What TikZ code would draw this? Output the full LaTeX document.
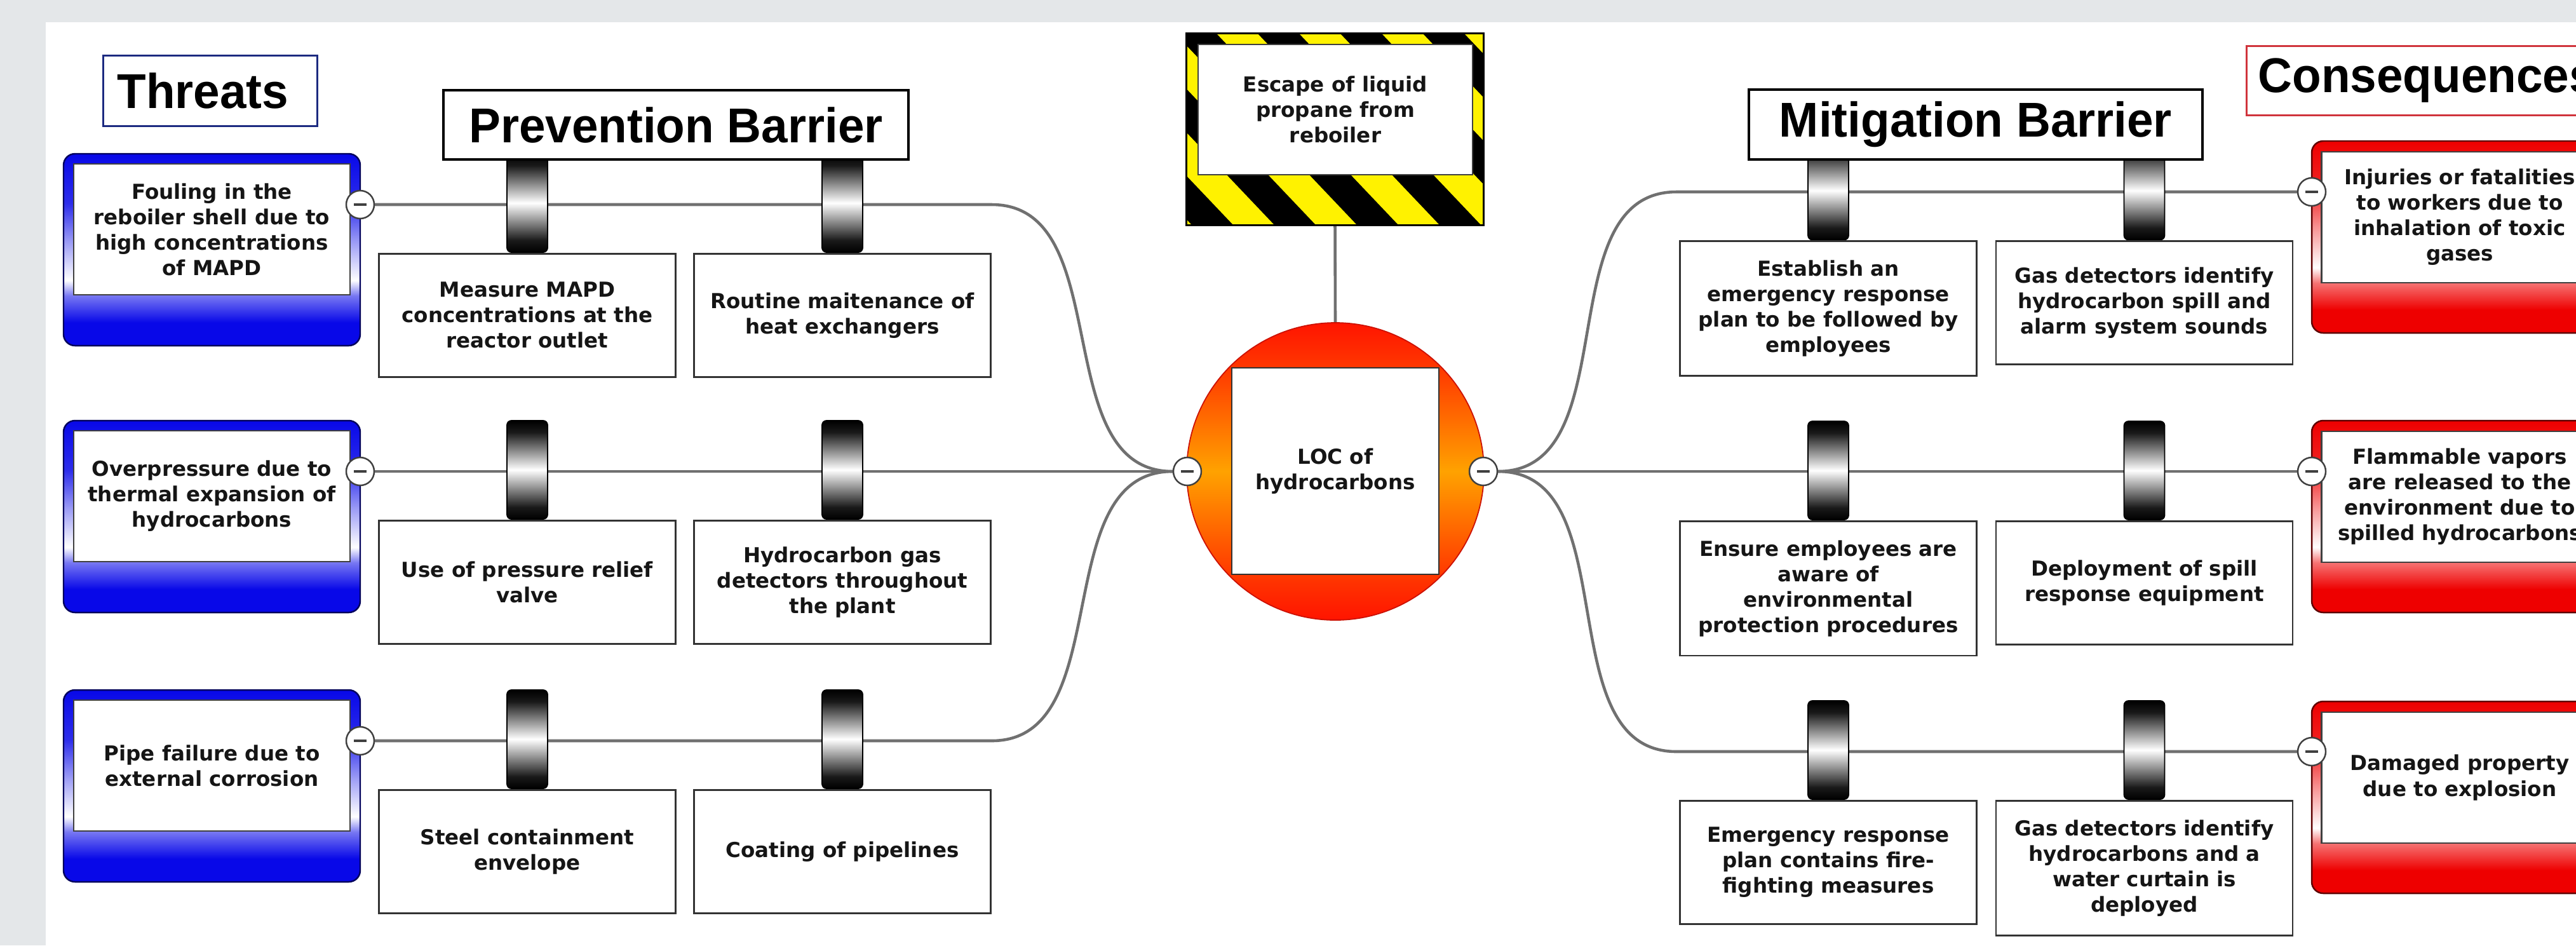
\documentclass[tikz,border=0pt]{standalone}
\usepackage{fontspec}
\setmainfont{DejaVu Sans}
\newfontfamily\headfont{Liberation Sans}[FakeStretch=0.97]
\usetikzlibrary{positioning}

\definecolor{bggray}{HTML}{E4E7E9}
\definecolor{linkgray}{HTML}{707070}
\definecolor{txt}{HTML}{151515}
\definecolor{tblue}{HTML}{0808E8}
\definecolor{cred}{HTML}{EE0000}
\definecolor{hazyellow}{HTML}{FFF200}
\definecolor{headblue}{HTML}{1C2A80}
\definecolor{headred}{HTML}{D0343C}
\definecolor{locred}{HTML}{FF1400}
\definecolor{locmid}{HTML}{FF3A00}
\definecolor{locorange}{HTML}{FFA200}

\pgfdeclarelayer{bg}
\pgfdeclarelayer{links}
\pgfsetlayers{bg,links,main}

% shadings (25bp..75bp = node height)
\pgfdeclareverticalshading{pillshade}{100bp}{color(0bp)=(black); color(25bp)=(black); color(31bp)=(black!90); color(50bp)=(white); color(69bp)=(black!90); color(75bp)=(black); color(100bp)=(black)}
\pgfdeclareverticalshading{threatshade}{100bp}{color(0bp)=(tblue); color(31bp)=(tblue); color(38bp)=(tblue!55!white); color(42bp)=(white); color(52bp)=(tblue!40!white); color(62bp)=(tblue!85!white); color(75bp)=(tblue); color(100bp)=(tblue)}
\pgfdeclareverticalshading{conshade}{100bp}{color(0bp)=(cred); color(31bp)=(cred); color(38bp)=(cred!55!white); color(42bp)=(white); color(52bp)=(cred!40!white); color(62bp)=(cred!85!white); color(75bp)=(cred); color(100bp)=(cred)}
\pgfdeclareverticalshading{locshade}{100bp}{color(0bp)=(locred); color(25bp)=(locred); color(33bp)=(locmid); color(50bp)=(locorange); color(67bp)=(locmid); color(75bp)=(locred); color(100bp)=(locred)}

\newcommand{\btext}{\fontsize{9.25pt}{11.4pt}\selectfont\bfseries}
\newcommand{\htext}{\headfont\bfseries\fontsize{21.9pt}{24pt}\selectfont}

\begin{document}
\begin{tikzpicture}[x=1cm, y=-1cm,
  link/.style={draw=linkgray, line width=1.3pt},
  barrier/.style={draw=black!80, line width=0.8pt, fill=white, text=txt, font=\btext, align=center,
    minimum width=4.67cm, minimum height=1.94cm, inner ysep=0.3cm},
  pill/.style={draw=black, line width=0.5pt, rounded corners=0.07cm, shade, shading=pillshade,
    minimum width=0.64cm, minimum height=1.55cm, inner sep=0pt},
  threatframe/.style={rounded corners=0.18cm, draw=tblue!40!black, line width=0.7pt, shade, shading=threatshade,
    minimum width=4.67cm, minimum height=3.02cm, inner sep=0pt},
  conframe/.style={rounded corners=0.18cm, draw=cred!40!black, line width=0.7pt, shade, shading=conshade,
    minimum width=4.67cm, minimum height=3.02cm, inner sep=0pt},
  eventbox/.style={draw=black!75, line width=0.8pt, fill=white, text=txt, font=\btext, align=center,
    minimum width=4.35cm, minimum height=2.06cm, inner sep=0.1cm},
  minus/.style={circle, draw=black!75, fill=white, line width=0.7pt, minimum size=0.44cm, inner sep=0pt,
    path picture={\draw[black!75, line width=1pt] ([xshift=-0.1cm]path picture bounding box.center) -- ([xshift=0.1cm]path picture bounding box.center);}},
  header/.style={draw=black, line width=1pt, fill=white, font=\htext, inner sep=0pt}
]
\useasboundingbox (0,0) rectangle (40.55,14.88);
\clip (0,0) rectangle (40.55,14.88);

\begin{pgfonlayer}{bg}
\fill[bggray] (0,0) rectangle (40.55,14.88);
\fill[white] (0.72,0.35) rectangle (40.55,14.88);
\end{pgfonlayer}

% threats
\node[threatframe] (tf1) at (3.335,3.93) {};
\node[eventbox] (t1) at (3.335,3.61) {Fouling in the\\reboiler shell due to\\high concentrations\\of MAPD};
\node[threatframe] (tf2) at (3.335,8.13) {};
\node[eventbox] (t2) at (3.335,7.81) {Overpressure due to\\thermal expansion of\\hydrocarbons};
\node[threatframe] (tf3) at (3.335,12.37) {};
\node[eventbox] (t3) at (3.335,12.05) {Pipe failure due to\\external corrosion};

% prevention barriers
\node[pill] (p11) at (8.30,3.195) {};
\node[pill] (p12) at (13.26,3.195) {};
\node[pill] (p21) at (8.30,7.395) {};
\node[pill] (p22) at (13.26,7.395) {};
\node[pill] (p31) at (8.30,11.635) {};
\node[pill] (p32) at (13.26,11.635) {};
\node[barrier, below=0pt of p11] (b11) {Measure MAPD\\concentrations at the\\reactor outlet};
\node[barrier, below=0pt of p12] (b12) {Routine maitenance of\\heat exchangers};
\node[barrier, below=0pt of p21] (b21) {Use of pressure relief\\valve};
\node[barrier, below=0pt of p22] (b22) {Hydrocarbon gas\\detectors throughout\\the plant};
\node[barrier, below=0pt of p31] (b31) {Steel containment\\envelope};
\node[barrier, below=0pt of p32] (b32) {Coating of pipelines};

% hazard and top event
\node[draw=black, line width=0.6pt, fill=hazyellow, minimum width=4.67cm, minimum height=3.01cm] (haz) at (21.015,2.035) {};
\begin{scope}
  \clip (haz.north west) rectangle (haz.south east);
  \foreach \k in {-3,...,4}
    \fill[black] (18.50+1.3*\k,0.53) -- ++(0.65,0) -- ++(2.86,3.01) -- ++(-0.65,0) -- cycle;
\end{scope}
\draw[black, line width=0.8pt] (haz.north west) rectangle (haz.south east);
\node[draw=black!75, line width=0.8pt, fill=white, text=txt, font=\btext, align=center,
  minimum width=4.32cm, minimum height=2.05cm] (hazbox) at (21.02,1.725) {Escape of liquid\\propane from\\reboiler};

\node[circle, shade, shading=locshade, draw=locred!80!black, line width=0.5pt, minimum size=4.68cm] (loc) at (21.02,7.42) {};
\node[draw=black!80, line width=0.8pt, fill=white, text=txt, font=\btext, align=center,
  minimum width=3.26cm, minimum height=3.25cm] (locbox) at (21.02,7.415) {LOC of\\hydrocarbons};

% mitigation barriers
\node[pill] (q11) at (28.78,3.00) {};
\node[pill] (q12) at (33.755,3.00) {};
\node[pill] (q21) at (28.78,7.405) {};
\node[pill] (q22) at (33.755,7.405) {};
\node[pill] (q31) at (28.78,11.805) {};
\node[pill] (q32) at (33.755,11.805) {};
\node[barrier, below=0pt of q11] (m11) {Establish an\\emergency response\\plan to be followed by\\employees};
\node[barrier, below=0pt of q12] (m12) {Gas detectors identify\\hydrocarbon spill and\\alarm system sounds};
\node[barrier, below=0pt of q21] (m21) {Ensure employees are\\aware of\\environmental\\protection procedures};
\node[barrier, below=0pt of q22] (m22) {Deployment of spill\\response equipment};
\node[barrier, below=0pt of q31] (m31) {Emergency response\\plan contains fire-\\fighting measures};
\node[barrier, below=0pt of q32] (m32) {Gas detectors identify\\hydrocarbons and a\\water curtain is\\deployed};

% consequences
\node[conframe] (cf1) at (38.725,3.73) {};
\node[eventbox] (c1) at (38.72,3.42) {Injuries or fatalities\\to workers due to\\inhalation of toxic\\gases};
\node[conframe] (cf2) at (38.725,8.13) {};
\node[eventbox] (c2) at (38.72,7.82) {Flammable vapors\\are released to the\\environment due to\\spilled hydrocarbons};
\node[conframe] (cf3) at (38.725,12.55) {};
\node[eventbox] (c3) at (38.72,12.24) {Damaged property\\due to explosion};

% headers
\node[header, draw=headblue, line width=0.9pt, anchor=north west, text width=2.93cm, align=left,
  inner xsep=0.22cm, minimum height=1.11cm] (threats) at (1.61,0.86) {Threats};
\node[header, minimum width=7.32cm, minimum height=1.09cm] (prevhead) at (10.64,1.965) {Prevention Barrier};
\node[header, minimum width=7.14cm, minimum height=1.10cm] (mithead) at (31.10,1.96) {Mitigation Barrier};
\node[header, draw=headred, line width=0.9pt, anchor=north west, inner xsep=0.18cm,
  minimum height=1.09cm] (conshead) at (35.35,0.71) {Consequences};

% minus buttons
\node[minus] (tm1) at (5.67,3.22) {};
\node[minus] (tm2) at (5.67,7.42) {};
\node[minus] (tm3) at (5.67,11.66) {};
\node[minus] (cml) at (18.69,7.42) {};
\node[minus] (cmr) at (23.35,7.42) {};
\node[minus] (cm1) at (36.39,3.02) {};
\node[minus] (cm2) at (36.39,7.42) {};
\node[minus] (cm3) at (36.39,11.83) {};

\coordinate (bl1) at (15.61,3.22);
\coordinate (bl3) at (15.61,11.66);
\coordinate (br1) at (26.39,3.02);
\coordinate (br3) at (26.39,11.83);

% connectors
\begin{pgfonlayer}{links}
\draw[link] (tm1.east) -- (bl1) to[out=0, in=180] (cml.west);
\draw[link] (tm2.east) -- (cml.west);
\draw[link] (tm3.east) -- (bl3) to[out=0, in=180] (cml.west);
\draw[link] (cmr.east) to[out=0, in=180] (br1) -- (cm1.west);
\draw[link] (cmr.east) -- (cm2.west);
\draw[link] (cmr.east) to[out=0, in=180] (br3) -- (cm3.west);
\draw[link] (haz.south) -- (loc.north);
\end{pgfonlayer}
\end{tikzpicture}
\end{document}
